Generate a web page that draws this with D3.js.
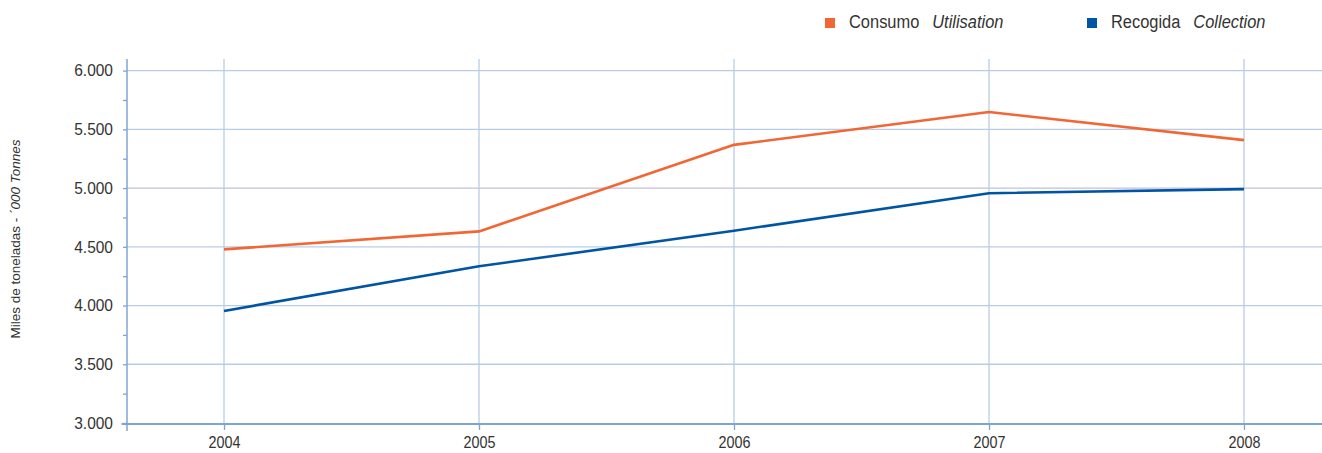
<!DOCTYPE html>
<html>
<head>
<meta charset="utf-8">
<script src="https://cdn.jsdelivr.net/npm/d3@7/dist/d3.min.js"></script>
<style>
  html, body { margin: 0; padding: 0; background: #fff; }
  svg { display: block; }
  text { font-family: "Liberation Sans", Arial, sans-serif; fill: #333; }
</style>
</head>
<body>
<svg id="chart" width="1322" height="453"></svg>
<script>
const years = ["2004", "2005", "2006", "2007", "2008"];
const consumo = [4478, 4631, 5368, 5647, 5408];
const recogida = [3954, 4334, 4637, 4956, 4991];
const yTicks = [3000, 3500, 4000, 4500, 5000, 5500, 6000];
const yMinorTicks = [3250, 3750, 4250, 4750, 5250, 5750];
const seriesNames = [
  { main: "Consumo", alt: "Utilisation" },
  { main: "Recogida", alt: "Collection" }
];
const colors = ["#f26633", "#0054a4"];
const yTitleMain = "Miles de toneladas - ";
const yTitleAlt = "´000 Tonnes";

const W = 1322, H = 453;
const plotLeft = 127, plotRight = 1322, plotTop = 59;
const narrow = 0.87;

const svg = d3.select("#chart");
const x = d3.scalePoint().domain(years).range([224, 1244]);
const y = d3.scaleLinear().domain([3000, 6000]).range([423, 70.6]);
const loc = d3.formatLocale({ decimal: ",", thousands: ".", grouping: [3], currency: ["", ""] });
const fmt = loc.format(",d");

// horizontal gridlines
svg.append("g").selectAll("line").data(yTicks.filter(d => d !== 3000)).join("line")
  .attr("x1", plotLeft).attr("x2", plotRight)
  .attr("y1", d => y(d)).attr("y2", d => y(d))
  .attr("stroke", d => d === 5000 ? "#c3bedb" : "#b9cce7")
  .attr("stroke-width", 1.3);

// vertical gridlines
svg.append("g").selectAll("line").data(years).join("line")
  .attr("x1", d => x(d)).attr("x2", d => x(d))
  .attr("y1", plotTop).attr("y2", y(3000))
  .attr("stroke", "#b9cce7").attr("stroke-width", 1.3);

// y axis
const yAxis = d3.axisLeft(y).tickValues(yTicks).tickFormat(fmt).tickSize(4).tickPadding(10);
const gy = svg.append("g").attr("transform", `translate(${plotLeft},0)`).call(yAxis);
gy.select(".domain").remove();
gy.selectAll(".tick line").attr("stroke", "#7fa4d4").attr("stroke-width", 1.3);
gy.selectAll(".tick text").attr("font-size", 16.5).attr("fill", "#333")
  .attr("x", -14 / 0.94).attr("transform", "scale(0.94,1)")
  .style("font-family", "\"Liberation Sans\", Arial, sans-serif");
const gyMinor = svg.append("g").attr("transform", `translate(${plotLeft},0)`)
  .call(d3.axisLeft(y).tickValues(yMinorTicks).tickFormat("").tickSize(4));
gyMinor.select(".domain").remove();
gyMinor.selectAll(".tick line").attr("stroke", "#7fa4d4").attr("stroke-width", 1.3);
svg.append("line").attr("x1", plotLeft).attr("x2", plotLeft)
  .attr("y1", plotTop).attr("y2", 431)
  .attr("stroke", "#7fa4d4").attr("stroke-width", 1.5);

// x axis
const xAxis = d3.axisBottom(x).tickSize(6).tickPadding(6);
const gx = svg.append("g").attr("transform", `translate(0,${y(3000) + 1})`).call(xAxis);
gx.select(".domain").remove();
gx.selectAll(".tick line").attr("stroke", "#7fa4d4").attr("stroke-width", 1.3);
gx.selectAll(".tick text").attr("font-size", 16.5).attr("fill", "#333")
  .attr("transform", `scale(${narrow},1)`)
  .style("font-family", "\"Liberation Sans\", Arial, sans-serif");
svg.append("line").attr("x1", 121.5).attr("x2", plotRight)
  .attr("y1", y(3000) + 1).attr("y2", y(3000) + 1)
  .attr("stroke", "#7fa4d4").attr("stroke-width", 1.8);

// lines
const line = d3.line().x((d, i) => x(years[i])).y(d => y(d));
[consumo, recogida].forEach((s, k) => {
  svg.append("path").datum(s).attr("d", line)
    .attr("fill", "none").attr("stroke", colors[k]).attr("stroke-width", 2.6)
    .attr("stroke-linejoin", "round");
});

// legend
const legendX = [825, 1087];
seriesNames.forEach((s, k) => {
  const g = svg.append("g").attr("transform", `translate(${legendX[k]},0)`);
  g.append("rect").attr("x", 0).attr("y", 18).attr("width", 10).attr("height", 10).attr("fill", colors[k]);
  const tg = g.append("g").attr("transform", `translate(24,0) scale(0.865,1)`);
  const t1 = tg.append("text").attr("x", 0).attr("y", 28.5).attr("font-size", 19).text(s.main);
  const w1 = t1.node().getComputedTextLength();
  tg.append("text").attr("x", w1 + 15).attr("y", 28.5).attr("font-size", 19)
    .attr("font-style", "italic").text(s.alt);
});

// y title
const yt = svg.append("text").attr("transform", `translate(20,239) rotate(-90)`)
  .attr("text-anchor", "middle").attr("font-size", 13.5);
yt.append("tspan").text(yTitleMain);
yt.append("tspan").attr("font-style", "italic").text(yTitleAlt);
</script>
</body>
</html>
